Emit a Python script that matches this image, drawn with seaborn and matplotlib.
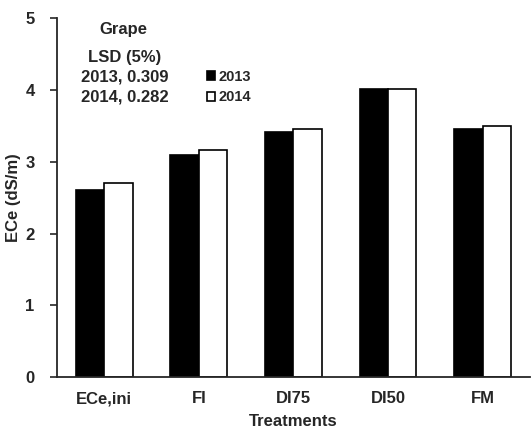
import matplotlib
matplotlib.use("Agg")
import matplotlib.pyplot as plt
import seaborn as sns
import pandas as pd

treatments = ["ECe,ini", "FI", "DI75", "DI50", "FM"]
ece_2013 = [2.60, 3.10, 3.41, 4.01, 3.46]
ece_2014 = [2.71, 3.17, 3.45, 4.01, 3.50]
years = ["2013", "2014"]

df = pd.DataFrame({
    "Treatment": treatments * 2,
    "ECe": ece_2013 + ece_2014,
    "Year": [years[0]] * len(treatments) + [years[1]] * len(treatments),
})

sns.set_style("ticks")
plt.rcParams["font.family"] = ["Liberation Sans", "DejaVu Sans"]
plt.rcParams["font.weight"] = "bold"

FS = 12

fig = plt.figure(figsize=(5.31, 4.32), dpi=100)
ax = fig.add_axes([0.107, 0.127, 0.891, 0.831])

sns.barplot(data=df, x="Treatment", y="ECe", hue="Year",
            palette={"2013": "black", "2014": "white"},
            edgecolor="black", linewidth=1.2, width=0.6, ax=ax,
            saturation=1)

ax.set_xlim(-0.5, 4.5)
ax.set_ylim(0, 5)
ax.set_yticks([0, 1, 2, 3, 4, 5])
ax.tick_params(axis="y", direction="out", length=5, width=1.2, labelsize=FS, pad=11)
ax.tick_params(axis="x", length=0, labelsize=FS, pad=10)
for lbl in ax.get_xticklabels() + ax.get_yticklabels():
    lbl.set_fontweight("bold")
sns.despine(ax=ax)
ax.spines["left"].set_linewidth(1.3)
ax.spines["bottom"].set_linewidth(1.3)

ax.set_xlabel("Treatments", fontsize=FS, fontweight="bold", labelpad=6)
ax.set_ylabel("ECe (dS/m)", fontsize=FS, fontweight="bold", labelpad=3)

ax.legend(loc="center left", bbox_to_anchor=(0.318, 0.808), frameon=False,
          borderpad=0, borderaxespad=0,
          handlelength=0.55, handleheight=0.55, handletextpad=0.2,
          labelspacing=0.45, prop={"weight": "bold", "size": 10.5})

ax.text(0.091, 0.969, "Grape", transform=ax.transAxes, fontsize=FS,
        fontweight="bold", ha="left", va="center")
lsd_lines = ["LSD (5%)", "2013, 0.309", "2014, 0.282"]
for txt, yy in zip(lsd_lines, [0.889, 0.836, 0.780]):
    ax.text(0.144, yy, txt, transform=ax.transAxes, fontsize=FS,
            fontweight="bold", ha="center", va="center")

fig.savefig("out.png", dpi=100)
